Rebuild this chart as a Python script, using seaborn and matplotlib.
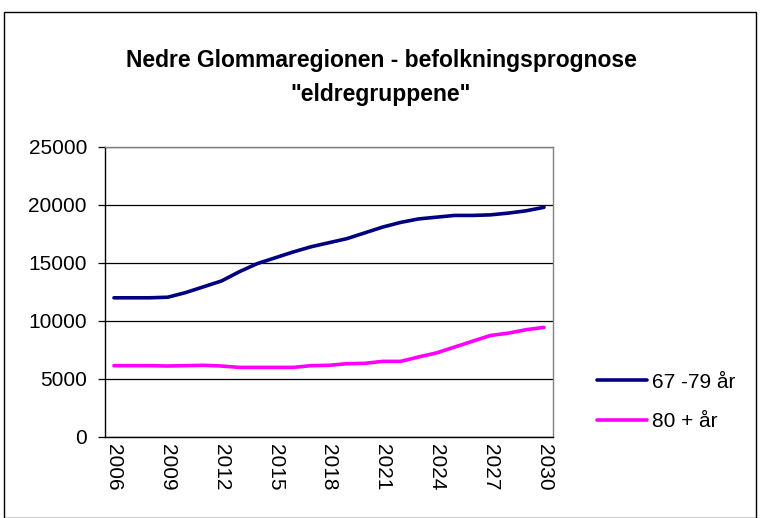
import pandas as pd
import numpy as np
import matplotlib.pyplot as plt
import seaborn as sns
from matplotlib.patches import Rectangle

# data
years = list(range(2006, 2031))
eldre_67_79 = [12000, 12000, 12000, 12050, 12450, 12950, 13450, 14250, 14950, 15450,
               15950, 16400, 16750, 17100, 17600, 18100, 18500, 18800, 18950, 19100,
               19100, 19150, 19300, 19500, 19800]
eldre_80 = [6150, 6150, 6150, 6120, 6150, 6180, 6120, 6000, 6000, 6000,
            6000, 6150, 6180, 6320, 6350, 6520, 6520, 6900, 7250, 7750,
            8250, 8750, 8950, 9250, 9450]
serie_navn = ["67 -79 år", "80 + år"]
farger = ["#000080", "#FF00FF"]

df = pd.DataFrame({
    "idx": list(range(len(years))) * 2,
    "verdi": eldre_67_79 + eldre_80,
    "serie": [serie_navn[0]] * len(years) + [serie_navn[1]] * len(years),
})

sns.set_style("white")
plt.rcParams['font.family'] = ['Liberation Sans', 'DejaVu Sans']
plt.rcParams['text.color'] = 'black'
plt.rcParams['xtick.color'] = 'black'
plt.rcParams['ytick.color'] = 'black'

fig = plt.figure(figsize=(7.6, 5.18), dpi=100)
ax = fig.add_axes([105 / 760, 81 / 518, 448 / 760, 290 / 518])

sns.lineplot(data=df, x="idx", y="verdi", hue="serie", palette=farger,
             linewidth=2.6, ax=ax, legend=False)

# akser
ax.set_xlim(-0.5, len(years) - 0.5)
ax.set_ylim(0, 25000)
ax.set_yticks(range(0, 25001, 5000))
ax.set_yticklabels([str(v) for v in range(0, 25001, 5000)], fontsize=15)
ax.yaxis.grid(True, color="black", linewidth=0.9)
ax.set_axisbelow(True)

lbl_idx = list(range(0, len(years), 3))
ax.set_xticks(lbl_idx)
ax.set_xticklabels([str(years[i]) for i in lbl_idx], rotation=270, fontsize=15)
ax.set_xticks(np.arange(-0.5, len(years)), minor=True)
ax.tick_params(axis="x", which="major", length=0, pad=5, labelcolor="black")
ax.tick_params(axis="x", which="minor", length=5, width=0.9, color="black", direction="out")
ax.tick_params(axis="y", length=5, width=0.9, color="black", direction="out", left=True,
               pad=8, labelcolor="black")
ax.set_xlabel("")
ax.set_ylabel("")

for s in ["left", "bottom"]:
    ax.spines[s].set_color("black")
    ax.spines[s].set_linewidth(1.0)
for s in ["top", "right"]:
    ax.spines[s].set_visible(True)
    ax.spines[s].set_color("#808080")
    ax.spines[s].set_linewidth(1.0)

# tittel
fig.text(381 / 760, 1 - 60 / 518, "Nedre Glommaregionen - befolkningsprognose",
         ha="center", va="center", fontsize=16.5, fontweight="bold", color="black")
fig.text(381 / 760, 1 - 95 / 518, "\"eldregruppene\"",
         ha="center", va="center", fontsize=16.5, fontweight="bold", color="black")

# legende
handles = [plt.Line2D([0], [0], color=c, linewidth=2.6) for c in farger]
fig.legend(handles, serie_navn, loc="center left", bbox_to_anchor=(597 / 760, 1 - 402 / 518),
           frameon=False, fontsize=15, handlelength=2.4, labelspacing=1.0,
           handletextpad=0.25, borderpad=0, borderaxespad=0, labelcolor="black")

# ramme rundt hele diagrammet
fig.patches.append(Rectangle((4 / 760, 0.5 / 518), 752 / 760, 506 / 518,
                             transform=fig.transFigure, fill=False,
                             edgecolor="black", linewidth=1.0))

plt.savefig("out.png", dpi=100)
